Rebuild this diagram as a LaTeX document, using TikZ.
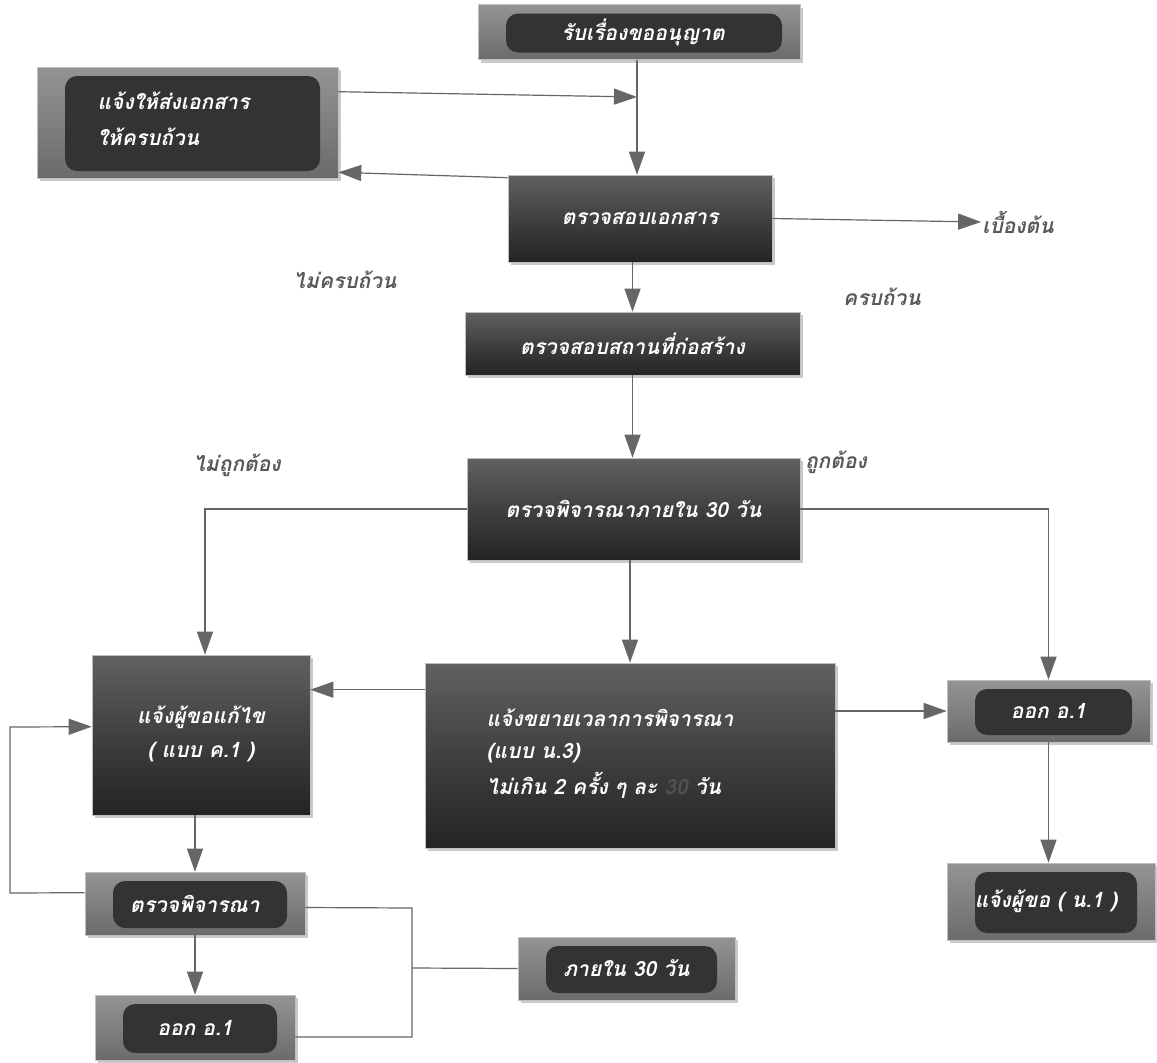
\documentclass[tikz,border=0pt]{standalone}
\usepackage{fontspec}
\newfontfamily\thaifont[Script=Thai]{Loma}
\usetikzlibrary{arrows.meta,calc,shadows}
\begin{document}
\begin{tikzpicture}[x=1pt,y=-1pt,
  every node/.style={font=\thaifont\bfseries\itshape\fontsize{21}{26}\selectfont},
  basebox/.style={draw=black!25, line width=0.6pt, text=white, inner sep=0pt,
    drop shadow={shadow xshift=3pt, shadow yshift=-3pt, fill=black!35, opacity=0.6}},
  darkbox/.style={basebox, top color=black!62, bottom color=black!86, middle color=black!75},
  pillbox/.style={basebox, top color=black!42, bottom color=black!58,
    path picture={\fill[black!80, rounded corners=12pt]
      ($(path picture bounding box.south west)+(28pt,7pt)$) rectangle
      ($(path picture bounding box.north east)+(-18pt,-9pt)$);}},
  lbl/.style={text=black!65, inner sep=1pt},
  arr/.style={draw=black!60, line width=1.2pt, -{Triangle[length=23pt,width=16pt]}},
  ln/.style={draw=black!60, line width=1.2pt}]
\useasboundingbox[fill=white] (0,0) rectangle (1157,1063);

% boxes
\node[pillbox, minimum width=322pt, minimum height=55pt] (A) at (639,32) {\hspace*{8pt}รับเรื่องขออนุญาต};
\node[pillbox, minimum width=301pt, minimum height=111pt, align=left] (B) at (187.5,122.5) {\hspace*{-28pt}\begin{tabular}{@{}l@{}}แจ้งให้ส่งเอกสาร\\[10pt]ให้ครบถ้วน\end{tabular}};
\node[darkbox, minimum width=264pt, minimum height=87pt] (C) at (640,218.5) {ตรวจสอบเอกสาร};
\node[darkbox, minimum width=335pt, minimum height=63pt] (D) at (632.5,343.5) {ตรวจสอบสถานที่ก่อสร้าง};
\node[darkbox, minimum width=333pt, minimum height=102pt] (E) at (633.5,509) {ตรวจพิจารณาภายใน 30 วัน};
\node[darkbox, minimum width=218pt, minimum height=160pt, align=center] (F) at (201,735) {\begin{tabular}{@{}c@{}}แจ้งผู้ขอแก้ไข\\[8pt]( แบบ ค.1 )\end{tabular}};
\node[darkbox, minimum width=410pt, minimum height=185pt] (G) at (630,755.5) {\begin{tabular}{@{}l@{}}แจ้งขยายเวลาการพิจารณา\\[6pt](แบบ น.3)\\[6pt]ไม่เกิน 2 ครั้ง ๆ ละ \textcolor{black!68}{30} วัน\end{tabular}\hspace*{40pt}};
\node[pillbox, minimum width=203pt, minimum height=62pt] (H) at (1048.5,711) {ออก อ.1};
\node[pillbox, minimum width=208pt, minimum height=77pt] (I) at (1051,901.5) {\hspace*{-10pt}แจ้งผู้ขอ ( น.1 )};
\node[pillbox, minimum width=220pt, minimum height=63pt] (J) at (195,903.5) {ตรวจพิจารณา};
\node[pillbox, minimum width=200pt, minimum height=65pt] (K) at (195,1027.5) {ออก อ.1};
\node[pillbox, minimum width=217pt, minimum height=63pt] (L) at (626.5,968.5) {ภายใน 30 วัน};

% labels
\node[lbl] (W) at (1018,222) {เบื้องต้น};
\node[lbl] (l1) at (345,280) {ไม่ครบถ้วน};
\node[lbl] (l2) at (882,297) {ครบถ้วน};
\node[lbl] (l3) at (237,465) {ไม่ถูกต้อง};
\node[lbl] (l4) at (836,462) {ถูกต้อง};

% coordinates
\coordinate (jB) at (637,97);
\coordinate (c1) at (10,893);
\coordinate (c2) at (10,727);
\coordinate (d1) at (412,908);
\coordinate (d2) at (412,1037);
\coordinate (d3) at (412,968);

% connectors
\draw[arr] (A.south -| jB) -- (C.north -| jB);
\draw[arr] ([yshift=-25pt]B.north east) -- (jB);
\draw[arr] ([yshift=-3pt]C.north west) -- ([yshift=6pt]B.south east);
\draw[arr] (C.east) -- (W.west);
\draw[arr] (D.north |- C.south) -- (D.north);
\draw[arr] (D.south) -- (D.south |- E.north);
\draw[arr] (E.west) -| ([xshift=4pt]F.north);
\draw[arr] (E.east) -| (H.north);
\draw[arr] (G.north |- E.south) -- (G.north);
\draw[arr] ([yshift=-27pt]G.north west) -- ([yshift=-35pt]F.north east);
\draw[arr] (G.east |- H.west) -- (H.west);
\draw[arr] (H.south) -- (H.south |- I.north);
\draw[arr] (J.north |- F.south) -- (J.north);
\draw[arr] ([yshift=-21pt]J.north west) -- (c1) -- (c2) -- ([yshift=-72pt]F.north west);
\draw[arr] (J.south) -- (K.north);
\draw[ln] ([yshift=-4pt]J.east) -- (d1) -- (d2) -- ([yshift=-9.5pt]K.east);
\draw[ln] (d3) -- (L.west);
\end{tikzpicture}
\end{document}
